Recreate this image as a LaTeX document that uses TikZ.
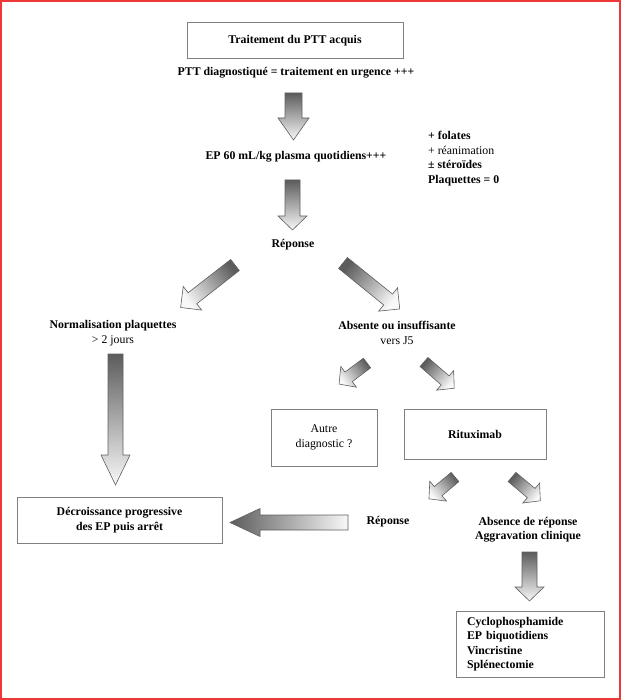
\documentclass[tikz,border=0pt]{standalone}
\usepackage{fontspec}
\setmainfont{Liberation Serif}
\usetikzlibrary{calc}
\definecolor{frame}{RGB}{240,55,55}
\definecolor{boxline}{RGB}{128,128,128}
\definecolor{arrline}{RGB}{95,95,95}
\definecolor{arrdark}{RGB}{92,92,92}
\definecolor{arrlight}{RGB}{248,248,248}
\tikzset{
  txt/.style={font=\fontsize{11.8}{14.5}\selectfont, inner sep=0pt, align=center},
  btxt/.style={txt, font=\fontsize{11.8}{14.5}\selectfont\bfseries},
  boxnode/.style={draw=boxline, line width=1pt, inner sep=0pt, align=center,
    font=\fontsize{11.8}{14.5}\selectfont},
  fatarrowstyle/.style={draw=arrline, line width=0.6pt, line join=miter,
    top color=arrdark, bottom color=arrlight}
}
% #1 tail coordinate, #2 direction (y down), #3 length, #4 shaft half width,
% #5 head half width, #6 head length, #7 shading angle
\newcommand\fatarrow[7]{%
  \pgfmathsetmacro\fa{#2}\pgfmathsetmacro\fb{#2+90}%
  \pgfmathsetmacro\fc{#2-90}\pgfmathsetmacro\fd{#3-#6}%
  \shade[fatarrowstyle, shading angle=#7]
    ($(#1)+(\fb:#4)$) -- ($(#1)+(\fa:\fd)+(\fb:#4)$) -- ($(#1)+(\fa:\fd)+(\fb:#5)$)
    -- ($(#1)+(\fa:#3)$) -- ($(#1)+(\fa:\fd)+(\fc:#5)$) -- ($(#1)+(\fa:\fd)+(\fc:#4)$)
    -- ($(#1)+(\fc:#4)$) -- cycle;}
\begin{document}
\begin{tikzpicture}[x=1pt,y=-1pt]
\useasboundingbox (0,0) rectangle (621,700);
\draw[frame, line width=2pt] (1,1) rectangle (619.5,698.5);

% nodes
\node[boxnode, minimum width=216pt, minimum height=36pt, font=\fontsize{11.8}{14.5}\selectfont\bfseries] (top) at (295,41) {Traitement du PTT acquis};
\node[btxt] (diag) at (296,73) {PTT diagnostiqué = traitement en urgence +++};
\node[btxt] (ep) at (296,157) {EP 60 mL/kg plasma quotidiens+++};
\node[txt, anchor=west, align=left] (side) at (428,158.5) {\textbf{+ folates}\\+ réanimation\\\textbf{± stéroïdes}\\\textbf{Plaquettes = 0}};
\node[btxt] (rep1) at (293,245) {Réponse};
\node[txt] (norm) at (113,333) {\textbf{Normalisation plaquettes}\\> 2 jours};
\node[txt] (abs) at (397,333) {\textbf{Absente ou insuffisante}\\vers J5};
\node[boxnode, minimum width=106pt, minimum height=57pt] (autre) at (324,437.5) {Autre\\diagnostic ?};
\node[boxnode, minimum width=142pt, minimum height=50pt, font=\fontsize{11.8}{14.5}\selectfont\bfseries] (ritux) at (475,434) {Rituximab};
\node[boxnode, minimum width=205pt, minimum height=46pt, font=\fontsize{11.8}{14.5}\selectfont\bfseries] (decr) at (119.5,520) {Décroissance progressive\\des EP puis arrêt};
\node[btxt] (rep2) at (388,522) {Réponse};
\node[btxt] (absrep) at (528,529.5) {Absence de réponse\\Aggravation clinique};
\node[boxnode, minimum height=66pt, text width=126pt, inner xsep=11pt, align=left, font=\fontsize{11.8}{14.5}\selectfont\bfseries] (cyclo) at (530,644) {Cyclophosphamide\\EP biquotidiens\\Vincristine\\Splénectomie};

% arrow tails
\coordinate (t1) at (293.5,93);
\coordinate (t2) at (292.5,180);
\coordinate (tl) at (235,265);
\coordinate (tr) at (343,263);
\coordinate (tn) at (115.5,354);
\coordinate (tsl) at (367,363);
\coordinate (tsr) at (424,362);
\coordinate (tbl) at (455,477);
\coordinate (tbr) at (512,477);
\coordinate (th) at (348,522.5);
\coordinate (tb) at (529.5,552);

\fatarrow{t1}{90}{47}{8.5}{15.5}{22}{0}
\fatarrow{t2}{90}{50}{7.5}{14.5}{14}{0}
\fatarrow{tl}{142}{69}{7}{15}{15}{-52}
\fatarrow{tr}{39}{73}{7}{15}{15}{51}
\fatarrow{tn}{90}{131}{7.5}{14.5}{30}{0}
\fatarrow{tsl}{143}{35}{6}{13}{12}{-53}
\fatarrow{tsr}{41}{40}{6}{13}{12}{49}
\fatarrow{tbl}{140}{34}{6}{13}{12}{-50}
\fatarrow{tbr}{40}{37}{6}{13}{12}{50}
\fatarrow{th}{180}{118}{7.5}{14}{30}{90}
\fatarrow{tb}{90}{49}{7.5}{14.5}{14}{0}
\end{tikzpicture}
\end{document}
